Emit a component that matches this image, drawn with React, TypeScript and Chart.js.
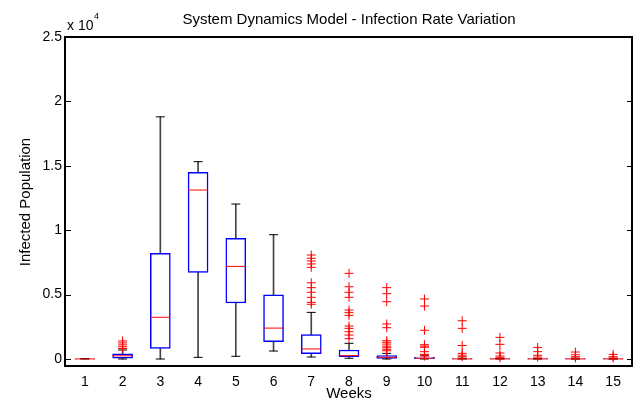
import { useEffect, useRef } from 'react';
import { Chart, registerables } from 'chart.js';

Chart.register(...registerables);

const FONT = "'Liberation Sans', Arial, Helvetica, sans-serif";

const weeks = ['1', '2', '3', '4', '5', '6', '7', '8', '9', '10', '11', '12', '13', '14', '15'];
const q1 = [0, 60, 830, 6730, 4350, 1340, 410, 180, 50, 20, 0, 0, 0, 0, 0];
const q3 = [20, 400, 8200, 14500, 9370, 4990, 1890, 700, 260, 150, 30, 30, 30, 30, 30];
const medians = [5, 250, 3240, 13120, 7190, 2400, 780, 260, 130, 60, 5, 5, 5, 5, 5];
const whiskerLow = [0, 0, 0, 130, 210, 620, 155, 60, 0, 0, 0, 0, 0, 0, 0];
const whiskerHigh = [40, 700, 18800, 15320, 12030, 9650, 3620, 1220, 440, 300, 60, 40, 30, 20, 20];
const outliers: number[][] = [
  [],
  [820, 950, 1100, 1250, 1400],
  [],
  [],
  [],
  [],
  [8075, 7820, 7610, 7380, 7120, 5920, 5540, 5180, 4790, 4400, 4250],
  [6650, 5610, 5180, 4790, 3800, 3600, 3390, 2560, 2380, 2120, 1860, 1580],
  [5540, 5070, 4450, 2720, 2430, 1420, 1300, 1160, 1000, 880, 750, 640],
  [4660, 4110, 2230, 1110, 1000, 910, 570, 360, 230],
  [2970, 2380, 1050, 440, 300, 180],
  [1680, 1140, 470, 230, 100],
  [900, 570, 290, 150],
  [540, 330, 180, 80],
  [360, 180, 80],
];
const yTicks = [0, 5000, 10000, 15000, 20000, 25000];
const yMin = -620;
const yMax = 25000;

const framePlugin = {
  id: 'matlabFrame',
  afterDraw(chart: any) {
    const { ctx, chartArea } = chart;
    const { left, right, top, bottom } = chartArea;
    const y = chart.scales.y;
    ctx.save();
    ctx.strokeStyle = '#000';
    ctx.lineWidth = 2;
    ctx.strokeRect(left - 1, top, right - left + 1, bottom - top - 1);
    ctx.lineWidth = 1;
    ctx.beginPath();
    yTicks.forEach((v) => {
      const py = Math.round(y.getPixelForValue(v)) + 0.5;
      ctx.moveTo(left, py);
      ctx.lineTo(left + 5, py);
      ctx.moveTo(right, py);
      ctx.lineTo(right - 5, py);
    });
    ctx.stroke();
    ctx.fillStyle = '#000';
    ctx.textBaseline = 'alphabetic';
    ctx.textAlign = 'left';
    ctx.font = `14px ${FONT}`;
    ctx.fillText('x 10', left + 1, top - 7.5);
    const w = ctx.measureText('x 10').width;
    ctx.font = `9px ${FONT}`;
    ctx.fillText('4', left + 1 + w + 0.5, top - 18.5);
    ctx.restore();
  },
};

export default function App() {
  const ref = useRef<HTMLCanvasElement | null>(null);

  useEffect(() => {
    if (!ref.current) return;
    const outlierPoints: { x: string; y: number }[] = [];
    outliers.forEach((list, i) => list.forEach((v) => outlierPoints.push({ x: weeks[i], y: v })));

    const chart = new Chart(ref.current, {
      type: 'bar',
      data: {
        labels: weeks,
        datasets: [
          {
            type: 'bar',
            label: 'whiskers',
            data: weeks.map((_, i) => [whiskerLow[i], whiskerHigh[i]]),
            backgroundColor: '#444',
            borderWidth: 0,
            barThickness: 1,
            grouped: false,
            order: 5,
          } as any,
          {
            type: 'bar',
            label: 'boxes',
            data: weeks.map((_, i) => [q1[i], q3[i]]),
            backgroundColor: '#fff',
            borderColor: '#0000ff',
            borderWidth: 1.5,
            borderSkipped: false,
            barThickness: 20,
            grouped: false,
            order: 4,
          } as any,
          {
            type: 'line',
            label: 'upper caps',
            data: whiskerHigh,
            showLine: false,
            pointStyle: 'line',
            pointRadius: 4.5,
            pointBorderColor: '#000',
            pointBorderWidth: 1,
            order: 3,
          } as any,
          {
            type: 'line',
            label: 'lower caps',
            data: whiskerLow,
            showLine: false,
            pointStyle: 'line',
            pointRadius: 4.5,
            pointBorderColor: '#000',
            pointBorderWidth: 1,
            order: 3,
          } as any,
          {
            type: 'line',
            label: 'medians',
            data: medians,
            showLine: false,
            pointStyle: 'line',
            pointRadius: 10,
            pointBorderColor: '#ff0000',
            pointBorderWidth: 1,
            order: 2,
          } as any,
          {
            type: 'line',
            label: 'outliers',
            data: outlierPoints,
            showLine: false,
            pointStyle: 'cross',
            pointRadius: 4.5,
            pointBorderColor: '#ff0000',
            pointBorderWidth: 1,
            order: 1,
          } as any,
        ],
      },
      options: {
        animation: false,
        responsive: false,
        maintainAspectRatio: false,
        layout: { padding: { left: 0, right: 7, top: 0, bottom: 0 } },
        plugins: {
          legend: { display: false },
          tooltip: { enabled: false },
          title: {
            display: true,
            text: 'System Dynamics Model - Infection Rate Variation',
            color: '#000',
            font: { family: FONT, size: 15, weight: 'normal', lineHeight: 1.2 },
            padding: { top: 11, bottom: 8 },
            fullSize: false,
          },
        },
        scales: {
          x: {
            type: 'category',
            offset: true,
            grid: { display: false, drawTicks: false },
            border: { display: false },
            ticks: { color: '#000', font: { family: FONT, size: 14 }, padding: 7, maxRotation: 0, autoSkip: false },
            title: {
              display: true,
              text: 'Weeks',
              color: '#000',
              font: { family: FONT, size: 15, lineHeight: 1 },
              padding: { top: 0, bottom: 0 },
            },
            afterFit: (s: any) => {
              s.height = 34;
            },
          },
          y: {
            type: 'linear',
            min: yMin,
            max: yMax,
            grid: { display: false, drawTicks: false },
            border: { display: false },
            afterBuildTicks: (s: any) => {
              s.ticks = yTicks.map((v) => ({ value: v }));
            },
            ticks: {
              color: '#000',
              font: { family: FONT, size: 14 },
              padding: 4,
              callback: (v: any) => String(Number(v) / 10000),
            },
            title: {
              display: true,
              text: 'Infected Population',
              color: '#000',
              font: { family: FONT, size: 15, lineHeight: 1.2 },
              padding: { top: 17, bottom: 0 },
            },
            afterFit: (s: any) => {
              s.width = 66;
            },
          },
        },
      } as any,
      plugins: [framePlugin],
    });
    return () => chart.destroy();
  }, []);

  return (
    <div style={{ position: 'fixed', left: 0, top: 0, width: 643, height: 401, background: '#fff' }}>
      <canvas ref={ref} width={643} height={401} style={{ width: 643, height: 401, display: 'block' }} />
    </div>
  );
}
